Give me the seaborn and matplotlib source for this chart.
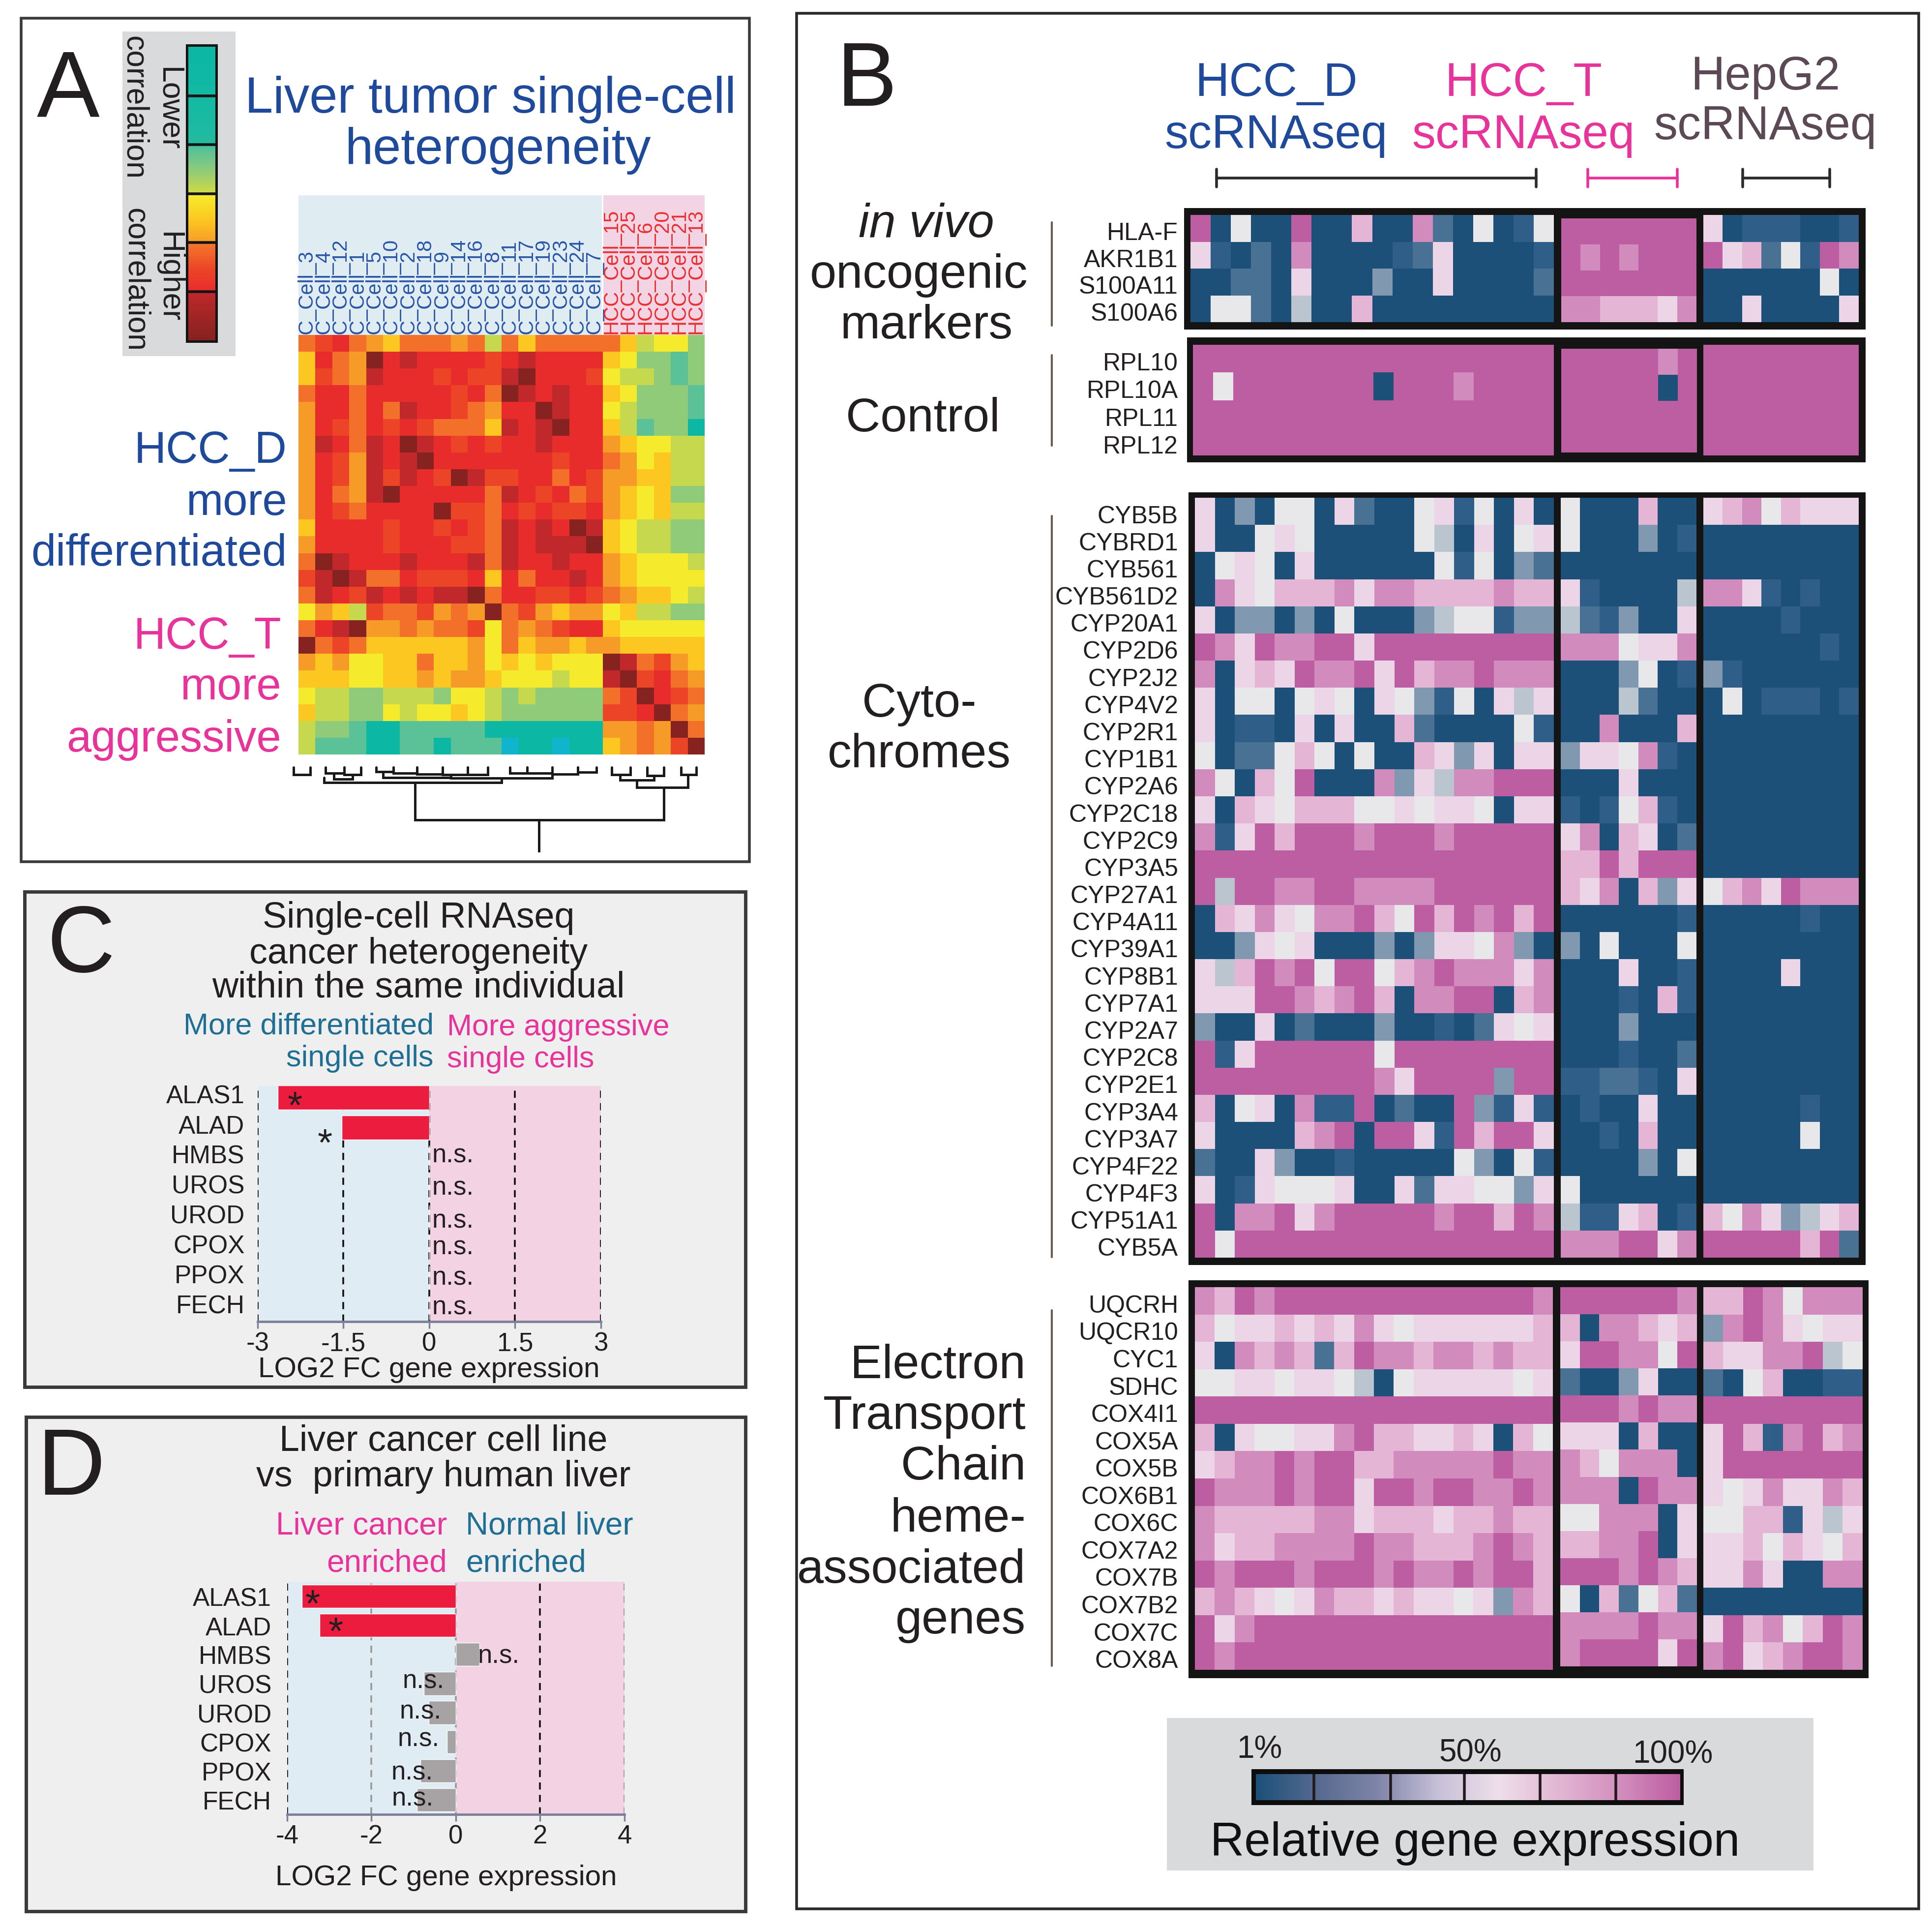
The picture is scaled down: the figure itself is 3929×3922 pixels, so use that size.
import numpy as np
import pandas as pd
import seaborn as sns
import matplotlib
matplotlib.use("Agg")
import matplotlib.pyplot as plt
from matplotlib.colors import LinearSegmentedColormap
from matplotlib.patches import Rectangle
from matplotlib.transforms import ScaledTranslation

# ---------- data ----------
A_COLS_D = ["C_Cell_3","C_Cell_4","C_Cell_12","C_Cell_1","C_Cell_5","C_Cell_10","C_Cell_2","C_Cell_18","C_Cell_9",
            "C_Cell_14","C_Cell_16","C_Cell_8","C_Cell_11","C_Cell_17","C_Cell_19","C_Cell_23","C_Cell_24","C_Cell_7"]
A_COLS_T = ["HCC_Cell_15","HCC_Cell_25","HCC_Cell_6","HCC_Cell_20","HCC_Cell_21","HCC_Cell_13"]
A_ROWS = ["89a876888784868888864553","6a87cabaaaa9abaaaa653323","6987baaa9a99bcaaa9544323","8aa8aaaaa9a8cbabaa653332",
          "7aa8a8baa987aacbaa543332","7a98a9a98886babcaa642331","7ba8bacba9a9aabaaa765544","7a97babcaaaaaaa9aa875644",
          "7a97b9ba9cb99aa8a9776644","7a87bcaaaaa8ba9a89765633","7a98aaaac998a9a99a765644","6aaaa9aa9a98babacb654433",
          "7aaaa9aaa998babbbc654433","8cbaaabaaab8baabaa765554","9bcb88a999a6a8aaba765555","8ba9bababbc8aa99a9876654",
          "57649889787c897677564433","8abc778788958789aa655555","c89866666675867767766666","767556686675656555cb8976",
          "666556676776555455bc9a87","54433444355434333389ca98","64433545565433333399ac87","4332112222211111117787c8",
          "42221122122201101167879c"]
A_COLORS = ["#10b4cc","#0cb8a4","#5cc296","#8ecb78","#c5d84e","#f6ea2c","#fcc820","#f79c28","#f2702a","#ec4526","#e92c2c","#c2282c","#862220"]
# dendrogram: left leaf, right leaf, left base, right base, top
D_LINKS = [(-0.3,0.7,0,0,.09),(1.6,2.7,0,0,.07),(2.7,3.7,0,0,.09),(2.1,3.2,.07,.09,.14),(4.6,5.6,0,0,.05),(5.6,7,0,0,.07),
           (7,8.5,0,0,.08),(8.5,10,0,0,.09),(10,11.2,0,0,.09),(12.5,13.5,0,0,.07),(13.5,15,0,0,.07),(15,16.5,0,0,.08),
           (16.5,17.6,0,0,.06),(5,9,.07,.09,.12),(9,15,.12,.08,.13),(1.5,12,.12,.13,.18),(18.5,19.6,0,0,.09),(20.6,21.6,0,0,.1),
           (22.6,23.5,0,0,.09),(19,21,.09,.1,.15),(20,23,.15,.09,.24),(6.9,21.6,.18,.24,.62),(14.2,14.2,.62,.62,1.0)]

B_COLORS = ["#1c5079","#2f5f88","#4a7193","#8099b0","#bcc6d0","#e8e8ea","#edd5e8","#e5b6d6","#d28cbd","#be5ea2"]
LEGEND_COLORS = ["#1c5079","#56698f","#7f84a8","#c6c0d8","#eedeea","#e2b6d3","#d28fbe","#be5ea2"]
MARK_GENES = ["HLA-F","AKR1B1","S100A11","S100A6"]
MARK_D = ["905009007008205015","610208000012600001","002206000300600002","055204007000000000"]
MARK_T = ["9999999","9898999","9999999","8877768"]
MARK_G = ["60111001","96725198","00000050","00600006"]
CTRL_GENES = ["RPL10","RPL10A","RPL11","RPL12"]
CTRL_D = ["999999999999999999","959999999099989999","999999999999999999","999999999999999999"]
CTRL_T = ["9999989","9999909","9999999","9999999"]
CTRL_G = ["99999999"]*4
CYTO_GENES = ["CYB5B","CYBRD1","CYB561","CYB561D2","CYP20A1","CYP2D6","CYP2J2","CYP4V2","CYP2R1","CYP1B1","CYP2A6","CYP2C18",
              "CYP2C9","CYP3A5","CYP27A1","CYP4A11","CYP39A1","CYP8B1","CYP7A1","CYP2A7","CYP2C8","CYP2E1","CYP3A4","CYP3A7",
              "CYP4F22","CYP4F3","CYP51A1","CYB5A"]
CYTO_D = ["603055062005615060","600565000005406056","056506000000515032","086577786887777877","603303050003455133",
          "986988996999999999","806769889697889888","605505650653150646","601106060072000051","502257505007636066",
          "850759000836488999","607657775565665066","816979998999899999","999999999999999999","949988998888999999",
          "076865889759798979","003656000303665830","647989599578988868","666998789708899078","300602000300102656",
          "916999999599999999","999999999869999399","705608119020093161","600007890996197996","200630010000053051",
          "601655560062665536","908896899999899798","959999999999999999"]
CYTO_T = ["5000700","5000301","0000000","6100004","4213006","8885668","0003501","0004200","0080007","3665810","0006000",
          "1015710","6807602","7797999","7680736","0000001","3050005","0006001","0001071","0003000","0001002","1122106",
          "0100600","0010700","0000305","5000000","4116701","8889968"]
CYTO_G = ["67857666","00000000","00000000","88610100","00001000","00000010","31000000","05011101","00000000","00000000",
          "00000000","00000000","00000000","00000000","57869888","00000100","00000000","00006000","00000000","00000000",
          "00000000","00000000","00000100","00000500","00000000","00000000","75863467","99999792"]
ETC_GENES = ["UQCRH","UQCR10","CYC1","SDHC","COX4I1","COX5A","COX5B","COX6B1","COX6C","COX7A2","COX7B","COX7B2","COX7C","COX8A"]
ETC_D = ["879899999999999998","756676768656666667","608787279887887877","556656654056666656","999999999999999999",
         "706556689776676075","678898997788888988","988898996998998898","877777886777677877","867788889887778987",
         "989998999898898997","787656877676656387","968999999999999999","989999999999999999"]
ETC_T = ["9999998","7088767","6998859","2003600","9998988","6660700","8758880","8880988","5588806","7788906","9998987",
         "5072572","8888988","8999969"]
ETC_G = ["77985888","38986566","76688945","20570011","99999999","69718978","69999999","65686687","55771646","66757657",
         "66860088","00000000","69785798","89678998"]

HEME_GENES = ["ALAS1","ALAD","HMBS","UROS","UROD","CPOX","PPOX","FECH"]
C_VALUES = [-2.65,-1.53,0,0,0,0,0,0]
C_SIG = ["*","*","n.s.","n.s.","n.s.","n.s.","n.s.","n.s."]
D_VALUES = [-3.65,-3.23,0.56,-0.76,-0.64,-0.21,-0.84,-0.92]
D_SIG = ["*","*","n.s.","n.s.","n.s.","n.s.","n.s.","n.s."]
C_TICKS = [-3,-1.5,0,1.5,3]; C_TICKLABELS = ["-3","-1.5","0","1.5","3"]
D_TICKS = [-4,-2,0,2,4]; D_TICKLABELS = ["-4","-2","0","2","4"]

# ---------- setup ----------
W, H = 3930, 3923
sns.set_theme(style="white")
plt.rcParams['font.family'] = ['Liberation Sans', 'DejaVu Sans']
fig = plt.figure(figsize=(W/100, H/100), dpi=100, facecolor="white")
INK = "#231f20"; BLUE = "#1f4a9c"; PINK = "#e8339a"; TEAL = "#1f6f94"; BLUE_BG = "#e0ecf3"; PINK_BG = "#f3d3e3"

def axpx(x0, y0, x1, y1, **kw):
    return fig.add_axes([x0/W, 1-y1/H, (x1-x0)/W, (y1-y0)/H], **kw)

def T(x, y, s, size, color=INK, ha="center", va="center", **kw):
    if "rotation" not in kw:
        y = y + 0.087*size
    fig.text(x/W, 1-y/H, s, fontsize=size, color=color, ha=ha, va=va, zorder=20, **kw)

bg = axpx(0, 0, W, H); bg.set_xlim(0, W); bg.set_ylim(H, 0); bg.axis("off"); bg.set_zorder(0)
def R(x0, y0, x1, y1, fc="none", ec="none", lw=0, z=1):
    bg.add_patch(Rectangle((x0, y0), x1-x0, y1-y0, fc=fc, ec=ec, lw=lw, zorder=z))

def digits(rows, base=10):
    return np.array([[int(c, base) for c in r] for r in rows], float)

def nudge(labels, dy_px):
    for lab in labels:
        lab.set_transform(lab.get_transform() + ScaledTranslation(0, dy_px/100, fig.dpi_scale_trans))

# ---------- panels ----------
R(43, 38, 1524, 1753, fc="white", ec="#3a3a3a", lw=4)
R(50, 1814, 1516, 2821, fc="#efefef", ec="#3a3a3a", lw=5)
R(53, 2882, 1516, 3887, fc="#efefef", ec="#3a3a3a", lw=5)
R(1620, 28, 3902, 3882, fc="white", ec="#2a2a2a", lw=4)

# ---------- A ----------
cmap_a = LinearSegmentedColormap.from_list("corr", A_COLORS, N=256)
HX0, HX1, HY0, HY1 = 607, 1433, 682, 1535
R(249, 65, 479, 725, fc="#d9dadb")
R(HX0, 398, 1224, HY0, fc="#dfecf2")
R(1227, 398, HX1, HY0, fc="#f2d4e4")
ax = axpx(HX0, HY0, HX1, HY1)
a_df = pd.DataFrame(digits(A_ROWS, 16), columns=A_COLS_D + A_COLS_T)
sns.heatmap(a_df, ax=ax, cmap=cmap_a, vmin=0, vmax=12, cbar=False, xticklabels=True, yticklabels=False)
ax.xaxis.tick_top()
ax.tick_params(axis="x", length=0, pad=2, rotation=90, labelsize=30)
for lab, name in zip(ax.get_xticklabels(), a_df.columns):
    lab.set_color("#ea2f2f" if name.startswith("HCC") else "#2a55a8")
    lab.set_va("bottom")

# colour bar A (low at top): six swatches of the scale
R(378, 91, 443, 698, fc="#141414")
cb = axpx(383, 96, 438, 693)
grad = np.concatenate([np.linspace(1, 1.1, 50), np.linspace(1.1, 1.3, 50), np.linspace(1.7, 4.2, 50),
                       np.linspace(4.9, 7, 50), np.linspace(7.8, 10, 50), np.linspace(11, 12, 50)]).reshape(-1, 1)
sns.heatmap(grad, ax=cb, cmap=cmap_a, vmin=0, vmax=12, cbar=False, xticklabels=False, yticklabels=False)
for f in [1/6, 2/6, 3/6, 4/6, 5/6]:
    cb.axhline(300*f, color="#141414", lw=4)
T(343, 222, "Lower", 45, rotation=-90)
T(272, 219, "correlation", 45, rotation=-90)
T(343, 564, "Higher", 45, rotation=-90)
T(275, 569, "correlation", 45, rotation=-90)

dn = axpx(HX0, 1561, HX1, 1733); dn.set_xlim(0, 24); dn.set_ylim(1, 0); dn.axis("off")
for l, r, lb, rb, t in D_LINKS:
    dn.plot([l, l, r, r], [lb, t, t, rb], color="#1a1a1a", lw=3.6, clip_on=False, solid_joinstyle="miter")

T(139, 176, "A", 138)
T(997, 196, "Liver tumor single-cell", 74, BLUE)
T(1013, 300, "heterogeneity", 74, BLUE)
T(584, 912, "HCC_D", 65, BLUE, ha="right"); T(584, 1018, "more", 65, BLUE, ha="right"); T(584, 1121, "differentiated", 65, BLUE, ha="right")
T(572, 1290, "HCC_T", 65, PINK, ha="right"); T(572, 1393, "more", 65, PINK, ha="right"); T(572, 1499, "aggressive", 65, PINK, ha="right")

# ---------- B ----------
cmap_b = LinearSegmentedColormap.from_list("expr", B_COLORS, N=256)
cmap_l = LinearSegmentedColormap.from_list("expr_legend", LEGEND_COLORS, N=256)
def block(genes, dD, dT, dG, frame, yD, yT, yG, xD, xT, xG):
    R(*frame, fc="#141414")
    for i, (d, box_x, box_y) in enumerate(zip((dD, dT, dG), (xD, xT, xG), (yD, yT, yG))):
        a = axpx(box_x[0], box_y[0], box_x[1], box_y[1])
        df = pd.DataFrame(digits(d), index=genes)
        sns.heatmap(df, ax=a, cmap=cmap_b, vmin=0, vmax=9, cbar=False, xticklabels=False, yticklabels=(i == 0))
        if i == 0:
            a.tick_params(axis="y", length=0, rotation=0, labelsize=36, pad=(box_x[0]-2396)/1.389, labelcolor=INK)
            nudge(a.get_yticklabels(), -10)

block(MARK_GENES, MARK_D, MARK_T, MARK_G, (2408, 424, 3794, 671), (438, 656), (445, 656), (438, 656), (2421, 3160), (3175, 3450), (3464, 3780))
block(CTRL_GENES, CTRL_D, CTRL_T, CTRL_G, (2414, 687, 3794, 941), (702, 927), (710, 921), (702, 927), (2426, 3160), (3175, 3451), (3464, 3780))
block(CYTO_GENES, CYTO_D, CYTO_T, CYTO_G, (2417, 1002, 3794, 2573), (1013, 2558), (1013, 2558), (1013, 2558), (2430, 3160), (3174, 3450), (3464, 3780))
block(ETC_GENES, ETC_D, ETC_T, ETC_G, (2417, 2604, 3800, 3413), (2618, 3396), (2618, 3389), (2618, 3396), (2430, 3158), (3173, 3451), (3464, 3788))

T(1763, 156, "B", 132)
T(2595, 164, "HCC_D", 69, BLUE); T(2595, 270, "scRNAseq", 69, BLUE)
T(3098, 164, "HCC_T", 69, PINK); T(3098, 270, "scRNAseq", 69, PINK)
T(3590, 151, "HepG2", 69, "#5b4a55"); T(3590, 252, "scRNAseq", 69, "#5b4a55")
T(1884, 451, "in vivo", 70, style="italic"); T(1869, 554, "oncogenic", 70); T(1884, 657, "markers", 70)
T(1877, 846, "Control", 70)
T(1869, 1426, "Cyto-", 70); T(1869, 1529, "chromes", 70)
for s, y in zip(["Electron", "Transport", "Chain", "heme-", "associated", "genes"], [2771, 2874, 2977, 3083, 3187, 3290]):
    T(2086, y, s, 70, ha="right")
for (x0, x1, c) in [(2474, 3124, "#2b2b2b"), (3229, 3411, PINK), (3544, 3721, "#2b2b2b")]:
    bg.plot([x0, x1], [363, 363], color=c, lw=4)
    bg.plot([x0, x0], [345, 381], color=c, lw=4); bg.plot([x1, x1], [345, 381], color=c, lw=4)
for y0, y1 in [(453, 663), (723, 907), (1050, 2557), (2665, 3388)]:
    bg.plot([2139, 2139], [y0, y1], color="#6b5a4e", lw=3)

R(2373, 3494, 3688, 3804, fc="#d9dadb")
R(2545, 3598, 3424, 3671, fc="#0d0d0d")
lg = axpx(2554, 3608, 3417, 3661)
sns.heatmap(np.linspace(0, 9, 300).reshape(1, -1), ax=lg, cmap=cmap_l, vmin=0, vmax=9, cbar=False, xticklabels=False, yticklabels=False)
for f in [0.137, 0.317, 0.491, 0.67, 0.848]:
    lg.axvline(300*f, color="#231a1e", lw=4)
T(2561, 3553, "1%", 46); T(2990, 3560, "50%", 46); T(3402, 3563, "100%", 46)
T(3000, 3742, "Relative gene expression", 69, "#111111")

# ---------- C / D bars ----------
def bars(box, vals, sig, lim, ylim, ticks, ticklabels, dash_cols, sig_xy, star_xy, pad, dy):
    a = axpx(*box)
    a.patch.set_alpha(0)
    a.axvspan(lim[0], 0, color=BLUE_BG, lw=0, zorder=0)
    a.axvspan(0, lim[1], color=PINK_BG, lw=0, zorder=0)
    for t, c in zip(ticks, dash_cols):
        a.axvline(t, color=c, lw=2.6, ls=(0, (4, 3)), zorder=1)
    df = pd.DataFrame({"gene": HEME_GENES, "value": vals})
    pal = {g: ("#ec1c3f" if s == "*" else "#a7a3a5") for g, s in zip(HEME_GENES, sig)}
    sns.barplot(df, x="value", y="gene", hue="gene", palette=pal, ax=a, legend=False, orient="h", width=0.8, saturation=1, zorder=2)
    a.set_xlim(*lim); a.set_ylim(*ylim)
    a.set_xlabel(""); a.set_ylabel("")
    sns.despine(ax=a, left=True, top=True, right=True)
    a.spines["bottom"].set_color("#7d7f9b"); a.spines["bottom"].set_linewidth(3.5)
    a.set_xticks(ticks); a.set_xticklabels(ticklabels)
    a.tick_params(axis="x", labelsize=38, length=10, width=2.5, color="#7d7f9b", pad=4, labelcolor=INK, bottom=True)
    a.tick_params(axis="y", labelsize=37, length=0, pad=pad, labelcolor=INK)
    nudge(a.get_yticklabels(), dy)
    for (x, y), s in zip(sig_xy, sig[2:]):
        a.text(x, y, s, fontsize=38, color=INK, ha="left", va="center", zorder=5)
    for (x, y) in star_xy:
        a.text(x, y, "*", fontsize=56, color=INK, ha="center", va="center", zorder=5)
    return a

bars((524, 2209, 1222, 2688), C_VALUES, C_SIG, (-3, 3), (7.46, -0.39), C_TICKS, C_TICKLABELS, ["#111"]*5,
     [(0.05, 1.92), (0.05, 3.0), (0.05, 4.1), (0.05, 4.98), (0.05, 6.0), (0.05, 6.97)], [(-2.35, 0.33), (-1.82, 1.57)], 19, 8)
bars((584, 3217, 1270, 3690), D_VALUES, D_SIG, (-4, 4), (7.5, -0.5), D_TICKS, D_TICKLABELS, ["#111", "#999", "#999", "#111", "#999"],
     [(0.52, 2.05), (-1.27, 2.9), (-1.33, 3.95), (-1.38, 4.9), (-1.53, 6.05), (-1.52, 6.95)], [(-3.4, 0.33), (-2.85, 1.28)], 23, 0)

T(164, 1914, "C", 138)
T(851, 1862, "Single-cell RNAseq", 53); T(851, 1935, "cancer heterogeneity", 53); T(851, 2003, "within the same individual", 53)
T(882, 2083, "More differentiated", 44, TEAL, ha="right"); T(882, 2149, "single cells", 44, TEAL, ha="right")
T(909, 2086, "More aggressive", 44, PINK, ha="left"); T(909, 2151, "single cells", 44, PINK, ha="left")
T(872, 2781, "LOG2 FC gene expression", 42)

T(144, 2977, "D", 138)
T(902, 2925, "Liver cancer cell line", 53); T(902, 2998, "vs  primary human liver", 53)
T(909, 3098, "Liver cancer", 46, PINK, ha="right"); T(909, 3174, "enriched", 46, PINK, ha="right")
T(947, 3098, "Normal liver", 46, TEAL, ha="left"); T(947, 3174, "enriched", 46, TEAL, ha="left")
T(907, 3814, "LOG2 FC gene expression", 42)

fig.savefig("out.png", dpi=100, facecolor="white")
